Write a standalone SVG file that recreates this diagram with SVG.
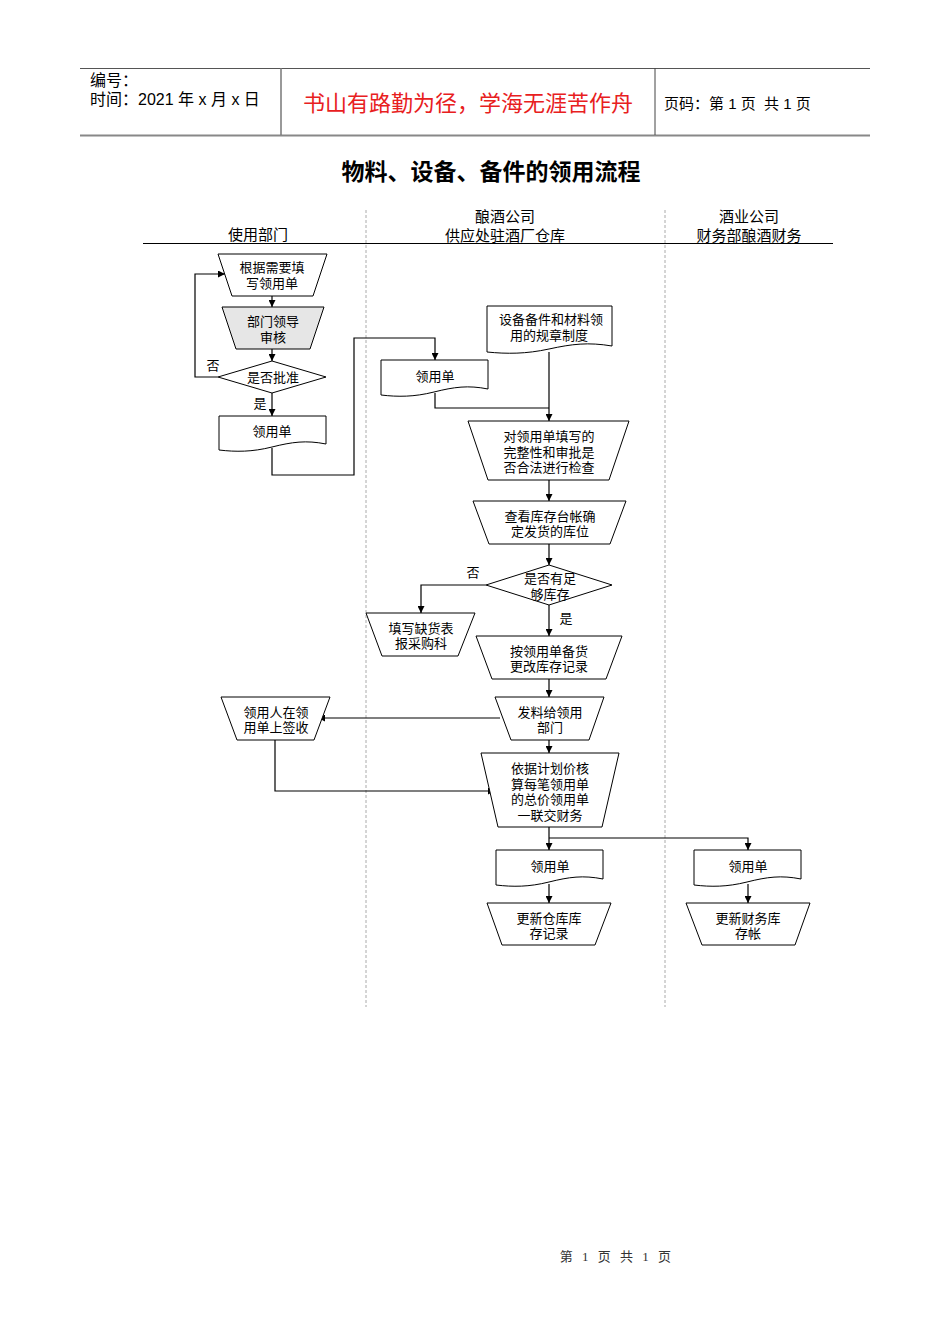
<svg xmlns="http://www.w3.org/2000/svg" width="950" height="1344" viewBox="0 0 950 1344">
<style>
text{font-family:"Liberation Sans","Noto Sans CJK SC",sans-serif;fill:#000}
.n text{font-size:13px;text-anchor:middle}
.n path,.n polygon{fill:#fff;stroke:#000;stroke-width:1}
.c path{fill:none;stroke:#000;stroke-width:1.2}
.lab{font-size:13px}
.lane{font-size:15px;text-anchor:middle}
</style>
<defs>
<marker id="ar" viewBox="0 0 8 8" refX="8" refY="4" markerWidth="7" markerHeight="7" markerUnits="userSpaceOnUse" orient="auto"><path d="M0,0 L8,4 L0,8 Z" fill="#000"/></marker>
</defs>
<rect width="950" height="1344" fill="#fff"/>
<!-- header -->
<g id="header">
<line x1="80" y1="68.5" x2="870" y2="68.5" stroke="#555" stroke-width="1"/>
<line x1="80" y1="135.5" x2="870" y2="135.5" stroke="#888" stroke-width="2"/>
<line x1="281" y1="68" x2="281" y2="135" stroke="#777" stroke-width="1.5"/>
<line x1="655" y1="68" x2="655" y2="135" stroke="#444" stroke-width="1"/>
<text x="90" y="86" font-size="16">编号：</text>
<text x="90" y="105" font-size="16">时间：2021 年 x 月 x 日</text>
<text x="468" y="111" font-size="22" text-anchor="middle" style="fill:#e8201e">书山有路勤为径，学海无涯苦作舟</text>
<text x="664" y="109" font-size="15" xml:space="preserve">页码：第 1 页  共 1 页</text>
</g>
<text x="491" y="180" font-size="23" font-weight="bold" text-anchor="middle">物料、设备、备件的领用流程</text>
<!-- lanes -->
<g id="lanes">
<line x1="143" y1="243.5" x2="833" y2="243.5" stroke="#000" stroke-width="1"/>
<line x1="366" y1="210" x2="366" y2="1007" stroke="#aaa" stroke-width="1" stroke-dasharray="3,2"/>
<line x1="665" y1="210" x2="665" y2="1007" stroke="#aaa" stroke-width="1" stroke-dasharray="3,2"/>
<text class="lane" x="258" y="240">使用部门</text>
<text class="lane" x="505" y="222">酿酒公司</text>
<text class="lane" x="505" y="241">供应处驻酒厂仓库</text>
<text class="lane" x="749" y="222">酒业公司</text>
<text class="lane" x="749" y="241">财务部酿酒财务</text>
</g>
<!-- connectors -->
<g id="connectors" class="c">
<path d="M272,296 V307" marker-end="url(#ar)"/>
<path d="M272,349 V361" marker-end="url(#ar)"/>
<path d="M272,393 V416" marker-end="url(#ar)"/>
<path d="M218,377 H195 V274 H225" marker-end="url(#ar)"/>
<path d="M272,448 V475 H354 V338 H435 V360" marker-end="url(#ar)"/>
<path d="M549,352 V421" marker-end="url(#ar)"/>
<path d="M435,393 V408 H549"/>
<path d="M549,480 V501" marker-end="url(#ar)"/>
<path d="M549,544 V565" marker-end="url(#ar)"/>
<path d="M486,585 H421 V613" marker-end="url(#ar)"/>
<path d="M549,605 V636" marker-end="url(#ar)"/>
<path d="M549,679 V697" marker-end="url(#ar)"/>
<path d="M500,718 H318" marker-end="url(#ar)"/>
<path d="M549,740 V753" marker-end="url(#ar)"/>
<path d="M275,740 V791 H495" marker-end="url(#ar)"/>
<path d="M549,827 V850" marker-end="url(#ar)"/>
<path d="M549,838 H748 V850" marker-end="url(#ar)"/>
<path d="M549,884 V903" marker-end="url(#ar)"/>
<path d="M748,884 V903" marker-end="url(#ar)"/>
<text class="lab" x="213" y="370" text-anchor="middle">否</text>
<text class="lab" x="260" y="408" text-anchor="middle">是</text>
<text class="lab" x="473" y="577" text-anchor="middle">否</text>
<text class="lab" x="566" y="623" text-anchor="middle">是</text>
</g>
<!-- nodes -->
<g id="n1" class="n"><polygon points="218,254 327,254 313,296 232,296"/><text x="272" y="272">根据需要填</text><text x="272" y="288">写领用单</text></g>
<g id="n2" class="n"><polygon points="222,307 324,307 310,349 236,349" style="fill:#e6e6e6"/><text x="273" y="326">部门领导</text><text x="273" y="342">审核</text></g>
<g id="n3" class="n"><polygon points="218,377 272,361 326,377 272,393"/><text x="273" y="382">是否批准</text></g>
<g id="n4" class="n"><path d="M219,416 H326 V444 C306,440 292,442 272,447 C252,452 236,452 219,450 Z"/><text x="272" y="436">领用单</text></g>
<g id="n5" class="n"><path d="M487,306 H612 V346 C588,342 572,344 549,349 C526,354 507,354 487,352 Z"/><text x="551" y="324">设备备件和材料领</text><text x="549" y="340">用的规章制度</text></g>
<g id="n6" class="n"><path d="M381,360 H488 V389 C468,385 454,387 434,392 C414,397 398,397 381,395 Z"/><text x="435" y="381">领用单</text></g>
<g id="n7" class="n"><polygon points="468,421 629,421 609,480 488,480"/><text x="549" y="441">对领用单填写的</text><text x="549" y="457">完整性和审批是</text><text x="549" y="472">否合法进行检查</text></g>
<g id="n8" class="n"><polygon points="473,501 626,501 610,544 489,544"/><text x="550" y="521">查看库存台帐确</text><text x="550" y="536">定发货的库位</text></g>
<g id="n9" class="n"><polygon points="486,585 549,565 612,585 549,605"/><text x="550" y="583">是否有足</text><text x="550" y="599">够库存</text></g>
<g id="n10" class="n"><polygon points="366,613 475,613 458,656 382,656"/><text x="421" y="633">填写缺货表</text><text x="421" y="648">报采购科</text></g>
<g id="n11" class="n"><polygon points="476,636 622,636 606,679 492,679"/><text x="549" y="656">按领用单备货</text><text x="549" y="671">更改库存记录</text></g>
<g id="n12" class="n"><polygon points="495,697 604,697 589,740 511,740"/><text x="550" y="717">发料给领用</text><text x="550" y="732">部门</text></g>
<g id="n13" class="n"><polygon points="221,697 330,697 314,740 237,740"/><text x="276" y="717">领用人在领</text><text x="276" y="732">用单上签收</text></g>
<g id="n14" class="n"><polygon points="481,753 619,753 602,827 498,827"/><text x="550" y="773">依据计划价核</text><text x="550" y="789">算每笔领用单</text><text x="550" y="804">的总价领用单</text><text x="550" y="820">一联交财务</text></g>
<g id="n15" class="n"><path d="M496,850 H603 V879 C583,875 569,877 549,882 C529,887 513,887 496,885 Z"/><text x="550" y="871">领用单</text></g>
<g id="n16" class="n"><path d="M694,850 H801 V879 C781,875 767,877 747,882 C727,887 711,887 694,885 Z"/><text x="748" y="871">领用单</text></g>
<g id="n17" class="n"><polygon points="487,903 611,903 595,945 502,945"/><text x="549" y="923">更新仓库库</text><text x="549" y="938">存记录</text></g>
<g id="n18" class="n"><polygon points="686,903 810,903 795,945 702,945"/><text x="748" y="923">更新财务库</text><text x="748" y="938">存帐</text></g>
<text x="617" y="1261" font-size="13" text-anchor="middle" letter-spacing="3" style="font-family:'Liberation Serif','Noto Sans CJK SC',serif;fill:#333" xml:space="preserve">第 1 页 共 1 页</text>
</svg>
